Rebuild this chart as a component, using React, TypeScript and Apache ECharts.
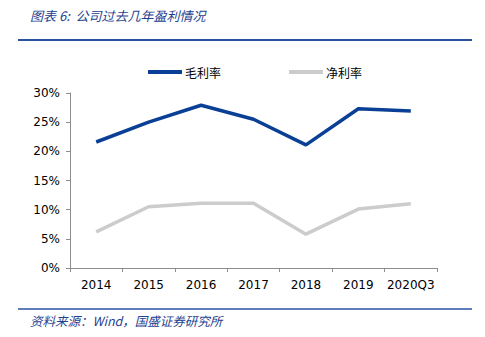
import React, { useEffect, useRef } from "react";
import * as echarts from "echarts";

const categories = ["2014", "2015", "2016", "2017", "2018", "2019", "2020Q3"];
const grossMargin = [21.6, 25.0, 27.9, 25.5, 21.1, 27.3, 26.9];
const netMargin = [6.2, 10.5, 11.1, 11.1, 5.8, 10.1, 11.0];
const seriesNames = ["毛利率", "净利率"];
const titleText = "图表 6:  公司过去几年盈利情况";
const sourceText = "资料来源：Wind，国盛证券研究所";

export default function App() {
  const ref = useRef<HTMLDivElement>(null);
  useEffect(() => {
    if (!ref.current) return;
    const chart = echarts.init(ref.current, null, { renderer: "svg" });
    const axisColor = "#8c8c8c";
    const font = "'DejaVu Sans', sans-serif";
    chart.setOption({
      animation: false,
      backgroundColor: "#ffffff",
      grid: { left: 70, right: 48, top: 93, bottom: 69 },
      legend: {
        top: 61,
        left: 143,
        itemGap: 68,
        itemWidth: 34,
        itemHeight: 4,
        icon: "rect",
        textStyle: { fontSize: 12, color: "#000", fontFamily: "'Noto Sans CJK SC', sans-serif", padding: [0, 0, 0, -2] },
        data: seriesNames,
      },
      xAxis: {
        type: "category",
        data: categories,
        boundaryGap: true,
        axisLine: { lineStyle: { color: axisColor } },
        axisTick: { show: true, lineStyle: { color: axisColor }, length: 4 },
        axisLabel: { color: "#000", fontSize: 12, fontFamily: font, margin: 11, interval: 0 },
      },
      yAxis: {
        type: "value",
        min: 0,
        max: 30,
        interval: 5,
        axisLine: { show: true, lineStyle: { color: axisColor } },
        axisTick: { show: true, lineStyle: { color: axisColor }, length: 4 },
        splitLine: { show: false },
        axisLabel: { color: "#000", fontSize: 12, fontFamily: font, formatter: "{value}%", margin: 10 },
      },
      series: [
        {
          name: seriesNames[0],
          type: "line",
          data: grossMargin,
          symbol: "none",
          lineStyle: { color: "#0a3f96", width: 3.5 },
          itemStyle: { color: "#0a3f96" },
        },
        {
          name: seriesNames[1],
          type: "line",
          data: netMargin,
          symbol: "none",
          lineStyle: { color: "#cccccc", width: 3.5 },
          itemStyle: { color: "#cccccc" },
        },
      ],
      graphic: [
        {
          type: "text",
          left: 30,
          top: 9,
          style: {
            text: titleText,
            fill: "#1f3f8f",
            font: "italic 13px 'Noto Sans CJK SC', sans-serif",
          },
        },
        {
          type: "line",
          shape: { x1: 18, y1: 40, x2: 472, y2: 40 },
          style: { stroke: "#2a52a0", lineWidth: 2 },
        },
        {
          type: "line",
          shape: { x1: 18, y1: 309, x2: 472, y2: 309 },
          style: { stroke: "#2a52a0", lineWidth: 1.5 },
        },
        {
          type: "text",
          left: 30,
          top: 314,
          style: {
            text: sourceText,
            fill: "#1f3f8f",
            font: "italic 12.5px 'Noto Sans CJK SC', sans-serif",
          },
        },
      ],
    });
    return () => chart.dispose();
  }, []);
  return <div ref={ref} style={{ width: 485, height: 337, position: "absolute", left: 0, top: 0 }} />;
}
